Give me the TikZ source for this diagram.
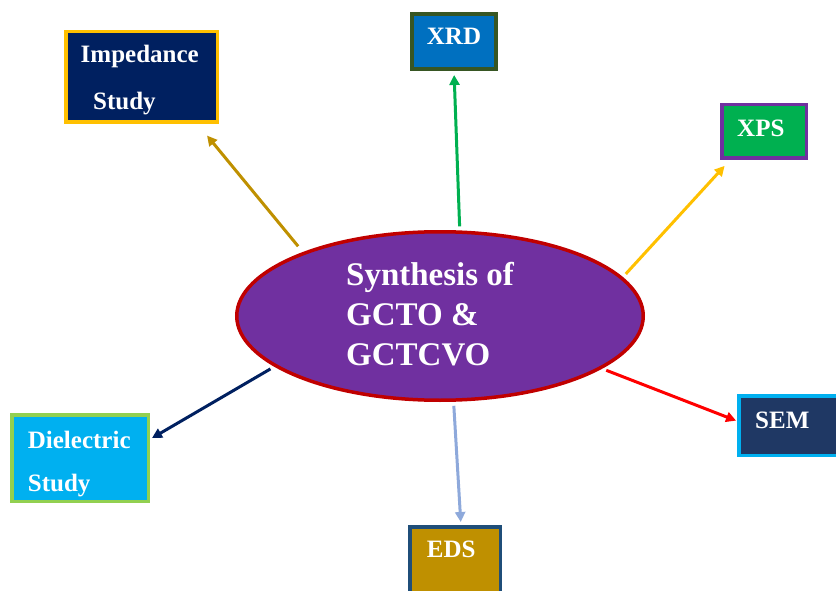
\documentclass[tikz,border=0pt]{standalone}
\usepackage{fontspec}
\setmainfont{Liberation Serif}
\usetikzlibrary{arrows.meta}
\usetikzlibrary{shapes.geometric}

\definecolor{synpurple}{HTML}{7030A0}
\definecolor{synred}{HTML}{C00000}
\definecolor{navy}{HTML}{002060}
\definecolor{amber}{HTML}{FFC000}
\definecolor{ocean}{HTML}{0070C0}
\definecolor{moss}{HTML}{375623}
\definecolor{leaf}{HTML}{00B050}
\definecolor{sky}{HTML}{00B0F0}
\definecolor{lime}{HTML}{92D050}
\definecolor{slate}{HTML}{1F3864}
\definecolor{ochre}{HTML}{BF9000}
\definecolor{steel}{HTML}{1F4E79}
\definecolor{pale}{HTML}{8EA9DB}

\begin{document}
\begin{tikzpicture}
    [x=1pt,y=-1pt,
    box/.style={rectangle,line width=3.5pt,inner sep=0pt},
    boxtext/.style={anchor=base west,inner sep=0pt,text=white,align=left,
      font=\bfseries\fontsize{25}{47}\selectfont},
    link/.style={line width=3pt,-{Triangle[length=10pt,width=10pt]}}]

    \useasboundingbox (0,0) rectangle (836,591);

    \node[ellipse,draw=synred,fill=synpurple,line width=3.5pt,inner sep=0pt,
      minimum width=406.5pt,minimum height=168.5pt] (synthesis) at (440,316) {};
    \node[anchor=base west,inner sep=0pt,text=white,align=left,
      font=\bfseries\fontsize{33}{40}\selectfont] (synthesis text) at (346,365)
      {Synthesis of\\GCTO \&\\GCTCVO};

    \node[box,draw=amber,fill=navy,minimum width=151.5pt,minimum height=90.5pt]   (impedance)  at (141.5,77)  {};
    \node[box,draw=moss,fill=ocean,line width=4pt,minimum width=84pt,minimum height=55pt] (xrd) at (454,41.5) {};
    \node[box,draw=synpurple,fill=leaf,minimum width=84.5pt,minimum height=53.5pt] (xps)        at (764,131.5) {};
    \node[box,draw=lime,fill=sky,minimum width=136.5pt,minimum height=86.5pt]      (dielectric) at (80,458)    {};
    \node[box,draw=sky,fill=slate,minimum width=99.5pt,minimum height=59.5pt]      (sem)        at (788.5,425.5) {};
    \node[box,draw=steel,fill=ochre,minimum width=90.5pt,minimum height=71.5pt]    (eds)        at (455,562.5) {};

    \node[boxtext] (impedance text)  at (80.5,110)  {Impedance\\\hspace*{12.5pt}Study};
    \node[boxtext] (xrd text)        at (426.7,44.3) {XRD};
    \node[boxtext] (xps text)        at (737,137)  {XPS};
    \node[boxtext,font=\bfseries\fontsize{25}{43}\selectfont] (dielectric text) at (27.7,491) {Dielectric\\Study};
    \node[boxtext] (sem text)        at (755,428)  {SEM};
    \node[boxtext] (eds text)        at (426.7,557.7) {EDS};

    \draw[link,draw=ochre,shorten <=7.5pt,shorten >=15pt] (synthesis.155) -- (impedance.-40);
    \draw[link,draw=leaf,shorten <=4pt,shorten >=4pt]     (synthesis.77)  -- (xrd.south);
    \draw[link,draw=amber,shorten <=4.3pt,shorten >=8pt]  (synthesis.12)  -- (xps.220);
    \draw[link,draw=navy,shorten <=4.5pt,shorten >=2.3pt] (synthesis.197) -- (dielectric.15);
    \draw[link,draw=red,shorten <=4.5pt,shorten >=1pt]    (synthesis.342) -- (sem.175);
    \draw[link,draw=pale,shorten <=4pt,shorten >=3pt]     (synthesis.279) -- (eds.81);

  \end{tikzpicture}
\end{document}
